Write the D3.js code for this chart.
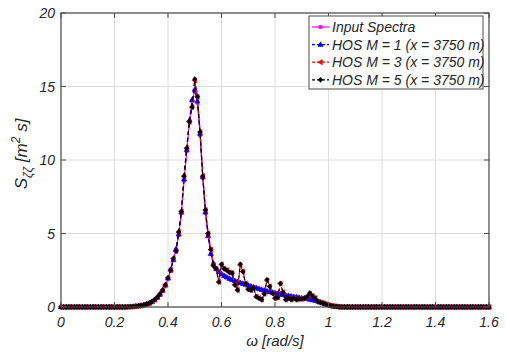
<!DOCTYPE html>
<html>
<head>
<meta charset="utf-8">
<script src="https://cdn.jsdelivr.net/npm/d3@7"></script>
<style>
  html, body { margin: 0; padding: 0; background: #fff; }
  svg { display: block; }
  text { font-family: "Liberation Sans", Arial, Helvetica, sans-serif; font-style: italic; fill: #262626; }
</style>
</head>
<body>
<div id="chart"></div>
<script>
// Frequency grid (rad/s), 0 to 1.6 in steps of 0.01
const omega = d3.range(161).map(i => +(i * 0.01).toFixed(2));

// Wave spectra S_ζζ [m^2 s]; values from 0.00 to 1.60 rad/s
const inputSpectra = [
  0,0,0,0,0,0,0,0,0,0, 0,0,0,0,0,0,0,0,0,0, 0,0,0,0,0,
  0.01,0.02,0.03,0.05,0.07, 0.10,0.14,0.19,0.26,0.36, 0.48,0.64,0.85,1.12,1.48,
  1.95,2.55,3.2,3.9,4.9, 6.4,8.6,10.6,12.6,14.0, 14.7,13.9,11.7,8.8,6.4,
  4.8,3.6,2.95,2.6,2.4, 2.25,2.12,2.02,1.93,1.85, 1.78,1.71,1.65,1.59,1.53,
  1.47,1.41,1.35,1.29,1.24, 1.18,1.13,1.08,1.03,0.99, 0.95,0.91,0.87,0.83,0.79,
  0.76,0.73,0.70,0.67,0.64, 0.61,0.58,0.55,0.52,0.48, 0.44,0.39,0.33,0.27,0.20,
  0.14,0.09,0.05,0.03,0.01,
  0,0,0,0,0,0,0,0,0,0, 0,0,0,0,0,0,0,0,0,0, 0,0,0,0,0,0,0,0,0,0,
  0,0,0,0,0,0,0,0,0,0, 0,0,0,0,0,0,0,0,0,0, 0,0,0,0,0,0
];

const hosM1 = [
  0,0,0,0,0,0,0,0,0,0, 0,0,0,0,0,0,0,0,0,0, 0,0,0,0,0,
  0.01,0.02,0.03,0.05,0.07, 0.10,0.14,0.19,0.26,0.36, 0.49,0.65,0.86,1.13,1.49,
  1.96,2.56,3.2,3.95,4.95, 6.45,8.7,10.7,12.7,14.1, 14.8,14.0,11.8,8.85,6.45,
  4.85,3.62,2.96,2.6,2.4, 2.25,2.12,2.02,1.93,1.85, 1.78,1.71,1.65,1.59,1.53,
  1.47,1.41,1.35,1.29,1.24, 1.18,1.13,1.08,1.03,0.99, 0.95,0.91,0.87,0.83,0.79,
  0.76,0.73,0.70,0.67,0.64, 0.61,0.58,0.55,0.52,0.48, 0.44,0.39,0.33,0.27,0.20,
  0.14,0.09,0.05,0.03,0.01,
  0,0,0,0,0,0,0,0,0,0, 0,0,0,0,0,0,0,0,0,0, 0,0,0,0,0,0,0,0,0,0,
  0,0,0,0,0,0,0,0,0,0, 0,0,0,0,0,0,0,0,0,0, 0,0,0,0,0,0
];

const hosM3 = [
  0,0,0,0,0,0,0,0,0,0, 0,0,0,0,0,0,0,0,0,0, 0,0,0,0,0,
  0.01,0.02,0.03,0.05,0.08, 0.10,0.15,0.20,0.27,0.37, 0.50,0.66,0.88,1.15,1.50,
  1.98,2.5,3.3,3.8,5.1, 6.5,8.9,10.8,12.6,13.6, 15.4,14.3,11.9,8.9,6.6,
  5.0,3.9,2.8,2.6,1.7, 2.9,2.6,2.5,2.35,2.3, 1.5,1.15,2.85,2.4,1.6,
  1.2,1.15,1.3,0.7,0.6, 0.5,0.9,1.8,1.4,0.95, 0.6,0.65,1.6,1.0,0.5,
  0.6,0.5,0.6,0.5,0.55, 0.55,0.6,0.7,0.9,0.75, 0.6,0.36,0.3,0.25,0.18,
  0.12,0.08,0.05,0.03,0.01,
  0,0,0,0,0,0,0,0,0,0, 0,0,0,0,0,0,0,0,0,0, 0,0,0,0,0,0,0,0,0,0,
  0,0,0,0,0,0,0,0,0,0, 0,0,0,0,0,0,0,0,0,0, 0,0,0,0,0,0
];

const hosM5 = [
  0,0,0,0,0,0,0,0,0,0, 0,0,0,0,0,0,0,0,0,0, 0,0,0,0,0,
  0.01,0.02,0.03,0.05,0.08, 0.10,0.15,0.20,0.27,0.37, 0.50,0.66,0.88,1.15,1.50,
  1.98,2.5,3.3,3.8,5.1, 6.5,8.9,10.8,12.6,13.6, 15.5,14.3,11.9,8.9,6.6,
  5.0,3.9,2.8,2.6,1.7, 2.9,2.6,2.5,2.35,2.3, 1.5,1.15,2.9,2.4,1.6,
  1.2,1.15,1.3,0.7,0.6, 0.5,0.9,1.85,1.4,0.95, 0.6,0.65,1.6,1.0,0.5,
  0.6,0.5,0.6,0.5,0.55, 0.55,0.6,0.7,0.95,0.75, 0.6,0.36,0.3,0.25,0.18,
  0.12,0.08,0.05,0.03,0.01,
  0,0,0,0,0,0,0,0,0,0, 0,0,0,0,0,0,0,0,0,0, 0,0,0,0,0,0,0,0,0,0,
  0,0,0,0,0,0,0,0,0,0, 0,0,0,0,0,0,0,0,0,0, 0,0,0,0,0,0
];

const seriesNames = ["Input Spectra", "HOS M = 1 (x = 3750 m)", "HOS M = 3 (x = 3750 m)", "HOS M = 5 (x = 3750 m)"];
const xTicks = [0, 0.2, 0.4, 0.6, 0.8, 1, 1.2, 1.4, 1.6];
const yTicks = [0, 5, 10, 15, 20];

const W = 506, H = 354;
const margin = { left: 61, right: 17, top: 13, bottom: 47 };
const iw = W - margin.left - margin.right;
const ih = H - margin.top - margin.bottom;

const svg = d3.select("#chart").append("svg").attr("width", W).attr("height", H);
const g = svg.append("g").attr("transform", `translate(${margin.left},${margin.top})`);

const x = d3.scaleLinear().domain([0, 1.6]).range([0, iw]);
const y = d3.scaleLinear().domain([0, 20]).range([ih, 0]);

// Grid
g.append("g").selectAll("line.gx").data(xTicks).join("line")
  .attr("x1", d => x(d)).attr("x2", d => x(d)).attr("y1", 0).attr("y2", ih)
  .attr("stroke", "#dedede").attr("stroke-width", 1);
g.append("g").selectAll("line.gy").data(yTicks).join("line")
  .attr("y1", d => y(d)).attr("y2", d => y(d)).attr("x1", 0).attr("x2", iw)
  .attr("stroke", "#dedede").attr("stroke-width", 1);

// Series
const series = [
  { name: seriesNames[0], values: inputSpectra, color: "#ff00ff", dash: null, marker: "square" },
  { name: seriesNames[1], values: hosM1, color: "#0000ff", dash: "4,3", marker: "triangleUp" },
  { name: seriesNames[2], values: hosM3, color: "#ff0000", dash: "4,3", marker: "triangleLeft" },
  { name: seriesNames[3], values: hosM5, color: "#000000", dash: "4,3", marker: "diamond" }
];

const markerPath = {
  square: "M-1.6,-1.6h3.2v3.2h-3.2z",
  triangleUp: "M0,-2.8L2.6,1.8L-2.6,1.8z",
  triangleLeft: "M-2.8,0L1.8,-2.6L1.8,2.6z",
  diamond: "M0,-2.6L2.2,0L0,2.6L-2.2,0z"
};

const line = d3.line().x((d, i) => x(omega[i])).y(d => y(d));

const plot = g.append("g");
series.forEach(s => {
  plot.append("path").datum(s.values)
    .attr("d", line)
    .attr("fill", "none")
    .attr("stroke", s.color)
    .attr("stroke-width", 1.2)
    .attr("stroke-dasharray", s.dash);
  plot.append("g").selectAll("path").data(s.values).join("path")
    .attr("transform", (d, i) => `translate(${x(omega[i])},${y(d)})`)
    .attr("d", markerPath[s.marker])
    .attr("fill", s.color)
    .attr("stroke", s.color)
    .attr("stroke-width", 0.6);
});

// Axes box with inward ticks on all sides
const axisColor = "#4d4d4d";
const tickLen = 5;
const ax = g.append("g");
ax.append("rect").attr("x", 0).attr("y", 0).attr("width", iw).attr("height", ih)
  .attr("fill", "none").attr("stroke", axisColor).attr("stroke-width", 1.2);
xTicks.forEach(t => {
  ax.append("line").attr("x1", x(t)).attr("x2", x(t)).attr("y1", ih).attr("y2", ih - tickLen).attr("stroke", axisColor);
  ax.append("line").attr("x1", x(t)).attr("x2", x(t)).attr("y1", 0).attr("y2", tickLen).attr("stroke", axisColor);
});
yTicks.forEach(t => {
  ax.append("line").attr("y1", y(t)).attr("y2", y(t)).attr("x1", 0).attr("x2", tickLen).attr("stroke", axisColor);
  ax.append("line").attr("y1", y(t)).attr("y2", y(t)).attr("x1", iw).attr("x2", iw - tickLen).attr("stroke", axisColor);
});

// Tick labels
ax.selectAll("text.xt").data(xTicks).join("text")
  .attr("x", d => x(d)).attr("y", ih + 20)
  .attr("text-anchor", "middle").attr("font-size", 14)
  .text(d => d);
ax.selectAll("text.yt").data(yTicks).join("text")
  .attr("x", -6).attr("y", d => y(d) + 5)
  .attr("text-anchor", "end").attr("font-size", 14)
  .text(d => d);

// Axis labels
svg.append("text")
  .attr("x", margin.left + iw / 2).attr("y", 346)
  .attr("text-anchor", "middle").attr("font-size", 15)
  .text("ω [rad/s]");

const yl = svg.append("text")
  .attr("transform", "translate(27,154) rotate(-90)")
  .attr("text-anchor", "middle").attr("font-size", 17);
yl.append("tspan").text("S");
yl.append("tspan").attr("font-size", 12).attr("dy", 5).text("ζζ");
yl.append("tspan").attr("dy", -5).text(" [m");
yl.append("tspan").attr("font-size", 12).attr("dy", -7).text("2");
yl.append("tspan").attr("dy", 7).text(" s]");

// Legend
const lg = svg.append("g").attr("transform", "translate(309,16)");
lg.append("rect").attr("width", 174).attr("height", 73)
  .attr("fill", "#fff").attr("stroke", axisColor).attr("stroke-width", 1);
series.forEach((s, i) => {
  const cy = 11 + i * 17.6;
  lg.append("line").attr("x1", 3).attr("x2", 20).attr("y1", cy).attr("y2", cy)
    .attr("stroke", s.color).attr("stroke-width", 1.2).attr("stroke-dasharray", s.dash ? "3,2" : null);
  lg.append("path").attr("transform", `translate(11.5,${cy})`).attr("d", markerPath[s.marker])
    .attr("fill", s.color).attr("stroke", s.color).attr("stroke-width", 0.6);
  lg.append("text").attr("x", 23).attr("y", cy + 5).attr("font-size", 14).text(s.name);
});
</script>
</body>
</html>
